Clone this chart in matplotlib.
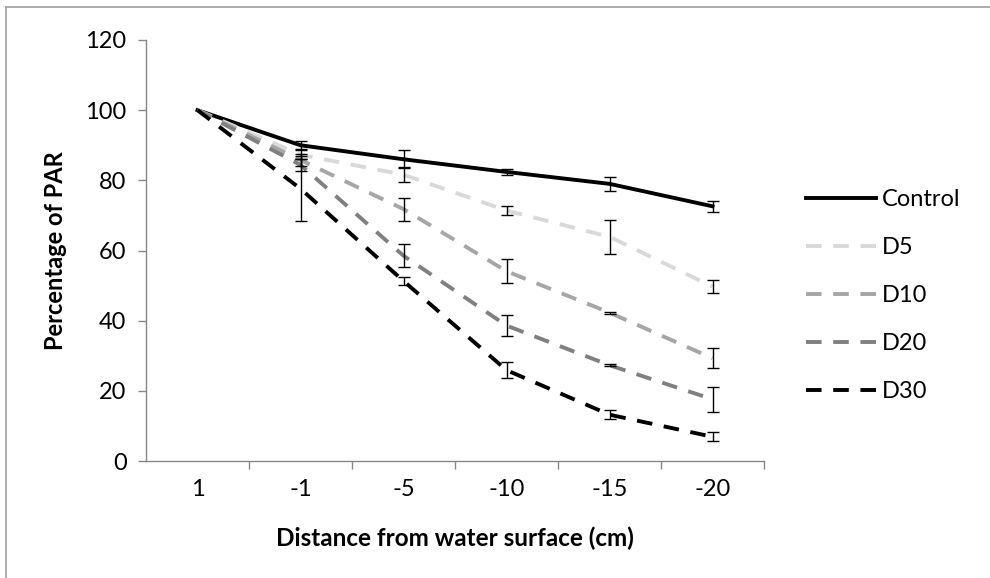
import numpy as np
import matplotlib
matplotlib.use("Agg")
import matplotlib.pyplot as plt
from matplotlib.lines import Line2D

plt.rcParams['font.family'] = ['Lato', 'DejaVu Sans']

# Depth categories (cm from water surface)
depths = ['1', '-1', '-5', '-10', '-15', '-20']

# Mean percentage of PAR for each treatment
control = [100, 90.0, 86.0, 82.4, 79.0, 72.6]
d5 = [100, 87.3, 81.6, 71.4, 63.9, 49.7]
d10 = [100, 85.8, 71.8, 54.1, 42.3, 29.3]
d20 = [100, 84.4, 58.5, 38.6, 27.3, 17.6]
d30 = [100, 77.6, 51.3, 25.9, 13.2, 6.9]

# Standard errors
control_err = [0, 1.2, 2.6, 0.8, 2.0, 1.5]
d5_err = [0, 1.3, 2.1, 1.4, 4.8, 1.9]
d10_err = [0, 1.7, 3.3, 3.4, 0.3, 2.8]
d20_err = [0, 1.8, 3.3, 3.1, 0.3, 3.5]
d30_err = [0, 9.3, 1.2, 2.2, 1.3, 1.3]

series = [
    ('Control', control, control_err, 'black', '-'),
    ('D5', d5, d5_err, '#d9d9d9', '--'),
    ('D10', d10, d10_err, '#a6a6a6', '--'),
    ('D20', d20, d20_err, '#808080', '--'),
    ('D30', d30, d30_err, 'black', '--'),
]

fig = plt.figure(figsize=(9.9, 5.78), dpi=100)
ax = fig.add_axes([146 / 990, 1 - 461 / 578, 618 / 990, 421 / 578])

x = np.arange(len(depths))
handles = []
for name, vals, err, col, ls in series:
    line, = ax.plot(x, vals, color=col, lw=2.8, linestyle=ls, zorder=2)
    if ls == '--':
        line.set_dashes((4, 3))
        line.set_dash_capstyle('butt')
    ax.errorbar(x[1:], vals[1:], yerr=err[1:], fmt='none', ecolor='black',
                elinewidth=1.0, capsize=4, capthick=1.0, zorder=3)
    handles.append(Line2D([], [], color=col, lw=2.8, linestyle=ls,
                          dashes=(4, 3) if ls == '--' else (None, None),
                          dash_capstyle='butt'))

ax.set_xlim(-0.5, 5.5)
ax.set_ylim(0, 120)
ax.set_yticks(np.arange(0, 121, 20))
ax.set_xticks(x)
ax.set_xticklabels(depths)
ax.set_xticks(np.arange(0.5, 5.6, 1), minor=True)

for s in ['top', 'right']:
    ax.spines[s].set_visible(False)
for s in ['left', 'bottom']:
    ax.spines[s].set_color('#868686')
    ax.spines[s].set_linewidth(1.0)

ax.tick_params(axis='y', which='major', length=6, width=1.0, color='#868686',
               labelsize=17, pad=8)
ax.tick_params(axis='x', which='major', length=0, labelsize=17, pad=13)
ax.tick_params(axis='x', which='minor', length=6, width=1.0, color='#868686')

ax.set_xlabel('Distance from water surface (cm)', fontsize=17.5, fontweight='bold',
              labelpad=19)
ax.set_ylabel('Percentage of PAR', fontsize=17, fontweight='bold', labelpad=13)

ax.legend(handles, [s[0] for s in series], loc='center left',
          bbox_to_anchor=(806 / 990, 1 - 295.5 / 578),
          bbox_transform=fig.transFigure, frameon=False, fontsize=17,
          handlelength=2.97, handletextpad=0.25, labelspacing=1.14,
          borderpad=0, borderaxespad=0)

# Light frame around the chart area
fig.add_artist(Line2D([6 / 990, 6 / 990], [0, 1 - 7 / 578], color='#a0a0a0',
                      lw=1.2, transform=fig.transFigure))
fig.add_artist(Line2D([6 / 990, 1], [1 - 7 / 578, 1 - 7 / 578], color='#a0a0a0',
                      lw=1.2, transform=fig.transFigure))

fig.savefig('out.png', dpi=100, facecolor='white')
